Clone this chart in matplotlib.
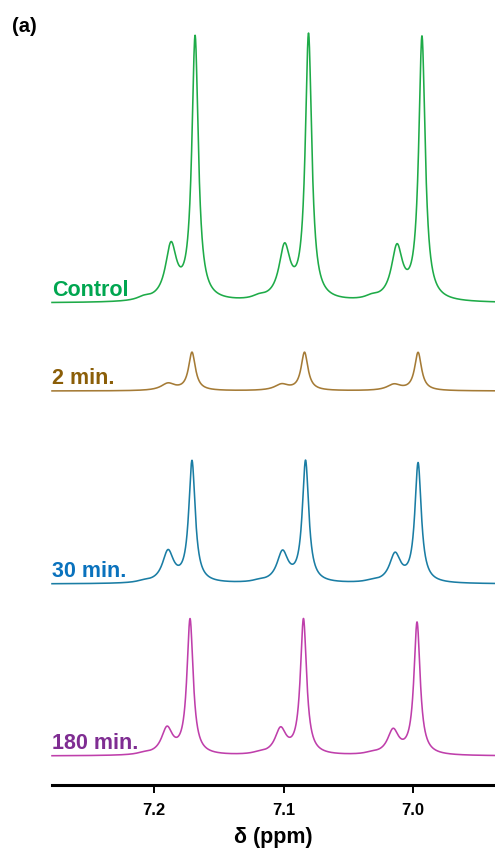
import numpy as np
import matplotlib
matplotlib.use("Agg")
import matplotlib.pyplot as plt

plt.rcParams['font.family'] = ['Liberation Sans', 'DejaVu Sans']

# ---- data (peak parameters) ----
labels = ["Control", "2 min.", "30 min.", "180 min."]
line_colors = ["#1eab48", "#a57b36", "#1a7da4", "#bf3fab"]
text_colors = ["#00a650", "#8b5e08", "#0a72bd", "#7f2d92"]
offsets = [482, 394, 201, 29]

# main peaks (ppm), heights, half widths
main_pos = [
    [7.1683, 7.0807, 6.9931],
    [7.1707, 7.0838, 6.9961],
    [7.1707, 7.0830, 6.9961],
    [7.1722, 7.0846, 6.9969],
]
main_h = [
    [263, 265, 263],
    [38, 38, 38],
    [121, 121, 119],
    [135, 135, 132],
]
main_w = [0.0030, 0.0032, 0.0030, 0.0029]

sh_pos = [
    [7.1869, 7.0992, 7.0124],
    [7.1892, 7.1015, 7.0147],
    [7.1892, 7.1008, 7.0139],
    [7.1900, 7.1023, 7.0154],
]
sh_h = [
    [54, 52, 52],
    [7, 6, 6],
    [31, 30, 28],
    [26, 25, 24],
]
sh_w = [0.0052, 0.0065, 0.0052, 0.0052]

bump_pos = [7.208, 7.119, 7.032]
bump_h = [
    [3, 3, 3],
    [0, 0, 0],
    [1.5, 1.5, 1.5],
    [1.5, 1.5, 1.5],
]
bump_w = 0.006

xticks = [7.2, 7.1, 7.0]
xlim = (7.2788, 6.9367)


def lor(x, x0, h, w):
    return h / (1.0 + ((x - x0) / w) ** 2)


fig = plt.figure(figsize=(4.95, 8.53), dpi=100)
ax = fig.add_axes([52 / 495, 67 / 853, 443 / 495, 786 / 853])

x = np.linspace(xlim[0], xlim[1], 3000)
for i in range(4):
    y = np.zeros_like(x)
    for p, h in zip(main_pos[i], main_h[i]):
        y += lor(x, p, h, main_w[i])
    for p, h in zip(sh_pos[i], sh_h[i]):
        y += lor(x, p, h, sh_w[i])
    for p, h in zip(bump_pos, bump_h[i]):
        y += lor(x, p, h, bump_w)
    ax.plot(x, y + offsets[i], color=line_colors[i], lw=1.15, clip_on=False)
    ax.text(xlim[0], offsets[i] + 8, labels[i], color=text_colors[i],
            fontsize=15.5, fontweight='bold', ha='left', va='baseline')

ax.set_xlim(*xlim)
ax.set_ylim(0, 786)
for s in ['top', 'left', 'right']:
    ax.spines[s].set_visible(False)
ax.spines['bottom'].set_linewidth(2.2)
ax.set_yticks([])
ax.set_xticks(xticks)
ax.set_xticklabels([f"{t:.1f}" for t in xticks], fontsize=12, fontweight='bold')
ax.tick_params(axis='x', length=6, width=1.4, pad=6)
ax.set_xlabel("δ (ppm)", fontsize=15.5, fontweight='bold', labelpad=7)

fig.text(12 / 495, 1 - 27 / 853, "(a)", fontsize=14.5, fontweight='bold',
         ha='left', va='center')

fig.savefig("out.png", dpi=100)
